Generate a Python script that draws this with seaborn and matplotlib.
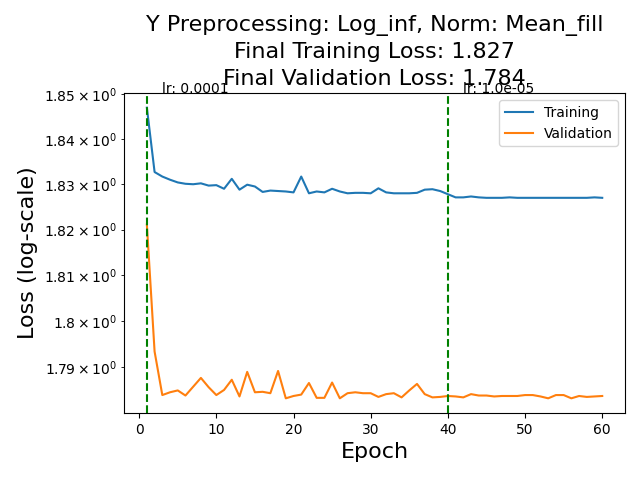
import numpy as np
import pandas as pd
import matplotlib
matplotlib.use("Agg")
import matplotlib.pyplot as plt
import seaborn as sns

epochs = list(range(1, 61))
train_loss = [
    1.8470, 1.8327, 1.8317, 1.8310, 1.8304, 1.8301, 1.8300, 1.8302, 1.8297, 1.8298,
    1.8290, 1.8312, 1.8288, 1.8299, 1.8295, 1.8283, 1.8286, 1.8285, 1.8284, 1.8282,
    1.8317, 1.8280, 1.8284, 1.8282, 1.8290, 1.8284, 1.8280, 1.8281, 1.8281, 1.8280,
    1.8291, 1.8282, 1.8280, 1.8280, 1.8280, 1.8281, 1.8288, 1.8289, 1.8285, 1.8278,
    1.8271, 1.8271, 1.8273, 1.8271, 1.8270, 1.8270, 1.8270, 1.8271, 1.8270, 1.8270,
    1.8270, 1.8270, 1.8270, 1.8270, 1.8270, 1.8270, 1.8270, 1.8270, 1.8271, 1.8270,
]
val_loss = [
    1.8211, 1.7934, 1.7840, 1.7846, 1.7850, 1.7839, 1.7858, 1.7877, 1.7857, 1.7840,
    1.7851, 1.7873, 1.7837, 1.7890, 1.7846, 1.7847, 1.7844, 1.7892, 1.7833, 1.7838,
    1.7841, 1.7866, 1.7834, 1.7834, 1.7867, 1.7833, 1.7844, 1.7846, 1.7844, 1.7844,
    1.7836, 1.7842, 1.7844, 1.7835, 1.7850, 1.7864, 1.7842, 1.7835, 1.7836, 1.7838,
    1.7837, 1.7835, 1.7842, 1.7839, 1.7839, 1.7837, 1.7838, 1.7838, 1.7838, 1.7840,
    1.7840, 1.7837, 1.7833, 1.7840, 1.7840, 1.7833, 1.7838, 1.7836, 1.7837, 1.7838,
]
lr_epochs = [1, 40]
lr_labels = ["lr: 0.0001", "lr: 1.0e-05"]

df = pd.DataFrame({
    "Epoch": epochs * 2,
    "Loss": train_loss + val_loss,
    "Set": ["Training"] * len(epochs) + ["Validation"] * len(epochs),
})

fig, ax = plt.subplots(figsize=(6.4, 4.8), dpi=100)
sns.lineplot(data=df, x="Epoch", y="Loss", hue="Set",
             palette=["#1f77b4", "#ff7f0e"], ax=ax)
ax.set_yscale("log")
ymax = ax.get_ylim()[1]
for e, lab in zip(lr_epochs, lr_labels):
    ax.axvline(e, color="green", linestyle="--")
    ax.text(e + 2, ymax, lab, fontsize=10)
ax.set_xlabel("Epoch", fontsize=16)
ax.set_ylabel("Loss (log-scale)", fontsize=16)
ax.set_title(
    f"Y Preprocessing: Log_inf, Norm: Mean_fill\n"
    f"Final Training Loss: {train_loss[-1]:.3f}\n"
    f"Final Validation Loss: {val_loss[-1]:.3f}",
    fontsize=16, linespacing=1.4)
ax.legend(title=None, loc="upper right")
fig.tight_layout()
fig.subplots_adjust(left=fig.subplotpars.left + 0.005,
                    bottom=fig.subplotpars.bottom + 0.006)
fig.savefig("out.png", dpi=100)
